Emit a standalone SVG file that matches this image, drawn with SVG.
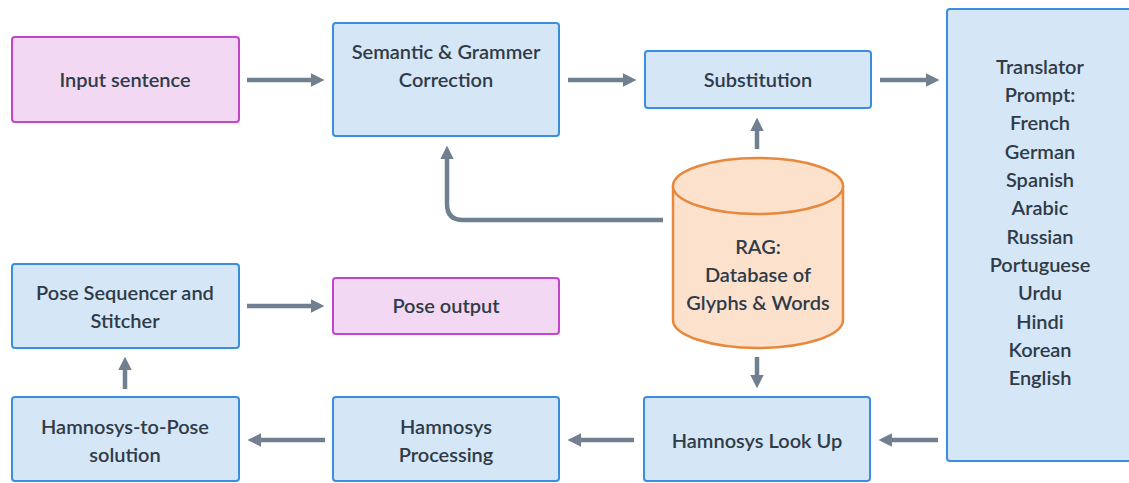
<svg xmlns="http://www.w3.org/2000/svg" width="1129" height="483" viewBox="0 0 1129 483">
  <style>
    .blue { fill: #d5e6f6; stroke: #3a8ee0; stroke-width: 2; }
    .pink { fill: #f2d8f3; stroke: #c444cf; stroke-width: 2; }
    .db { fill: #fce1cd; stroke: #e8883d; stroke-width: 2.5; }
    text { font-family: Lato, "Noto Sans", sans-serif; font-size: 20px; font-weight: 600; fill: #2f3b48; text-anchor: middle; }
    .conn { fill: none; stroke: #718090; stroke-width: 4.5; marker-end: url(#arrow); }
  </style>
  <defs>
    <marker id="arrow" viewBox="0 0 10 10" refX="6" refY="5" markerWidth="3" markerHeight="3" orient="auto" markerUnits="strokeWidth">
      <path d="M0,0 L10,5 L0,10 z" fill="#718090"/>
    </marker>
  </defs>

  <g id="input-sentence">
    <rect class="pink" x="12" y="37" width="227" height="85" rx="3"/>
    <text x="125" y="87">Input sentence</text>
  </g>
  <g id="semantic-correction">
    <rect class="blue" x="333" y="23" width="226" height="113" rx="3"/>
    <text x="446" y="59">Semantic &amp; Grammer</text>
    <text x="446" y="87">Correction</text>
  </g>
  <g id="substitution">
    <rect class="blue" x="645" y="51" width="226" height="57" rx="3"/>
    <text x="758" y="87">Substitution</text>
  </g>
  <g id="translator-prompt">
    <rect class="blue" x="947" y="9" width="190" height="452" rx="3"/>
    <text x="1040" y="74">Translator</text>
    <text x="1040" y="102">Prompt:</text>
    <text x="1040" y="130">French</text>
    <text x="1040" y="159">German</text>
    <text x="1040" y="187">Spanish</text>
    <text x="1040" y="215">Arabic</text>
    <text x="1040" y="244">Russian</text>
    <text x="1040" y="272">Portuguese</text>
    <text x="1040" y="300">Urdu</text>
    <text x="1040" y="329">Hindi</text>
    <text x="1040" y="357">Korean</text>
    <text x="1040" y="385">English</text>
  </g>
  <g id="rag-database">
    <path class="db" d="M673,186 L673,320 A85,28 0 0 0 843,320 L843,186 A85,28 0 0 0 673,186 Z"/>
    <path class="db" d="M673,186 A85,28 0 0 0 843,186" fill="none"/>
    <text x="758" y="254">RAG:</text>
    <text x="758" y="282">Database of</text>
    <text x="758" y="310">Glyphs &amp; Words</text>
  </g>
  <g id="pose-sequencer">
    <rect class="blue" x="12" y="264" width="227" height="84" rx="3"/>
    <text x="125" y="300">Pose Sequencer and</text>
    <text x="125" y="328">Stitcher</text>
  </g>
  <g id="pose-output">
    <rect class="pink" x="333" y="278" width="226" height="56" rx="3"/>
    <text x="446" y="313">Pose output</text>
  </g>
  <g id="hamnosys-to-pose">
    <rect class="blue" x="12" y="397" width="227" height="84" rx="3"/>
    <text x="125" y="434">Hamnosys-to-Pose</text>
    <text x="125" y="462">solution</text>
  </g>
  <g id="hamnosys-processing">
    <rect class="blue" x="333" y="397" width="226" height="84" rx="3"/>
    <text x="446" y="434">Hamnosys</text>
    <text x="446" y="462">Processing</text>
  </g>
  <g id="hamnosys-lookup">
    <rect class="blue" x="644" y="397" width="226" height="84" rx="3"/>
    <text x="757" y="448">Hamnosys Look Up</text>
  </g>

  <g id="connectors">
    <path class="conn" d="M247,80 L319,80"/>
    <path class="conn" d="M568,80 L631,80"/>
    <path class="conn" d="M880,80 L934,80"/>
    <path class="conn" d="M757,149 L757,123"/>
    <path class="conn" d="M663,220 L463,220 Q447,220 447,204 L447,151"/>
    <path class="conn" d="M757,357 L757,383"/>
    <path class="conn" d="M938,440 L884,440"/>
    <path class="conn" d="M634,440 L573,440"/>
    <path class="conn" d="M325,440 L253,440"/>
    <path class="conn" d="M125,389 L125,362"/>
    <path class="conn" d="M247,306 L319,306"/>
  </g>
</svg>
